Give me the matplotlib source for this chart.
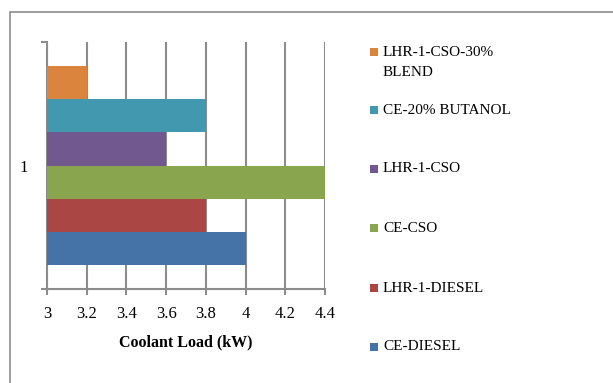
import matplotlib
matplotlib.use("Agg")
import matplotlib.pyplot as plt
from matplotlib.patches import Rectangle

# Coolant load per engine/fuel configuration (kW), bottom to top
series = ["CE-DIESEL", "LHR-1-DIESEL", "CE-CSO", "LHR-1-CSO",
          "CE-20% BUTANOL", "LHR-1-CSO-30%\nBLEND"]
values = [4.0, 3.8, 4.4, 3.6, 3.8, 3.2]
colors = ["#4572A7", "#AA4643", "#89A54E", "#71588F", "#4198AF", "#DB843D"]
category = ["1"]
xticks = [3, 3.2, 3.4, 3.6, 3.8, 4, 4.2, 4.4]
xticklabels = ["3", "3.2", "3.4", "3.6", "3.8", "4", "4.2", "4.4"]

plt.rcParams["font.family"] = ["Liberation Serif", "DejaVu Serif"]
grid_c = "#8c8c8c"

W, H = 613, 383
fig = plt.figure(figsize=(W / 100, H / 100), dpi=100)

# outer chart frame
fig.patches.append(Rectangle((9.5 / W, -0.2), 1.2, (H - 12) / H + 0.2,
                             transform=fig.transFigure, fill=False,
                             edgecolor=grid_c, linewidth=1.2))

ax = fig.add_axes([47 / W, 94 / H, 278 / W, 247 / H])

n = len(series)
group_h = 0.806
bar_h = group_h / n
for i, (v, c) in enumerate(zip(values, colors)):
    yc = -group_h / 2 + (i + 0.5) * bar_h
    ax.barh(yc, v, height=bar_h, color=c, left=0, zorder=3)

ax.set_xlim(3, 4.4)
ax.set_ylim(-0.5, 0.5)
ax.set_xticks(xticks)
ax.set_xticklabels(xticklabels, fontsize=12)
ax.set_yticks([0])
ax.set_yticklabels(category, fontsize=12)
ax.set_yticks([-0.5, 0.5], minor=True)
ax.tick_params(axis="y", which="major", length=0, pad=14)
ax.tick_params(axis="y", which="minor", length=4, color=grid_c, width=1.5)
ax.tick_params(axis="x", length=4, color=grid_c, width=1.5, pad=8)

ax.grid(axis="x", color=grid_c, linewidth=1.5, zorder=0)
for s in ["top", "right"]:
    ax.spines[s].set_visible(False)
for s in ["left", "bottom"]:
    ax.spines[s].set_color(grid_c)
    ax.spines[s].set_linewidth(1.5)

ax.set_xlabel("Coolant Load (kW)", fontsize=11.5, fontweight="bold",
              labelpad=9)

# legend, top entry first
leg_y = [52, 110, 169, 228, 288, 347]
for k, idx in enumerate(range(n - 1, -1, -1)):
    y = leg_y[k]
    fig.patches.append(Rectangle((370 / W, (H - y - 4) / H), 8 / W, 8 / H,
                                 transform=fig.transFigure,
                                 facecolor=colors[idx], edgecolor="none"))
    if "\n" in series[idx]:
        fig.text(383 / W, (H - y + 6) / H, series[idx], fontsize=11,
                 va="top", ha="left", linespacing=1.75)
    else:
        fig.text(383 / W, (H - y) / H, series[idx], fontsize=11,
                 va="center", ha="left")

fig.savefig("out.png", dpi=100)
